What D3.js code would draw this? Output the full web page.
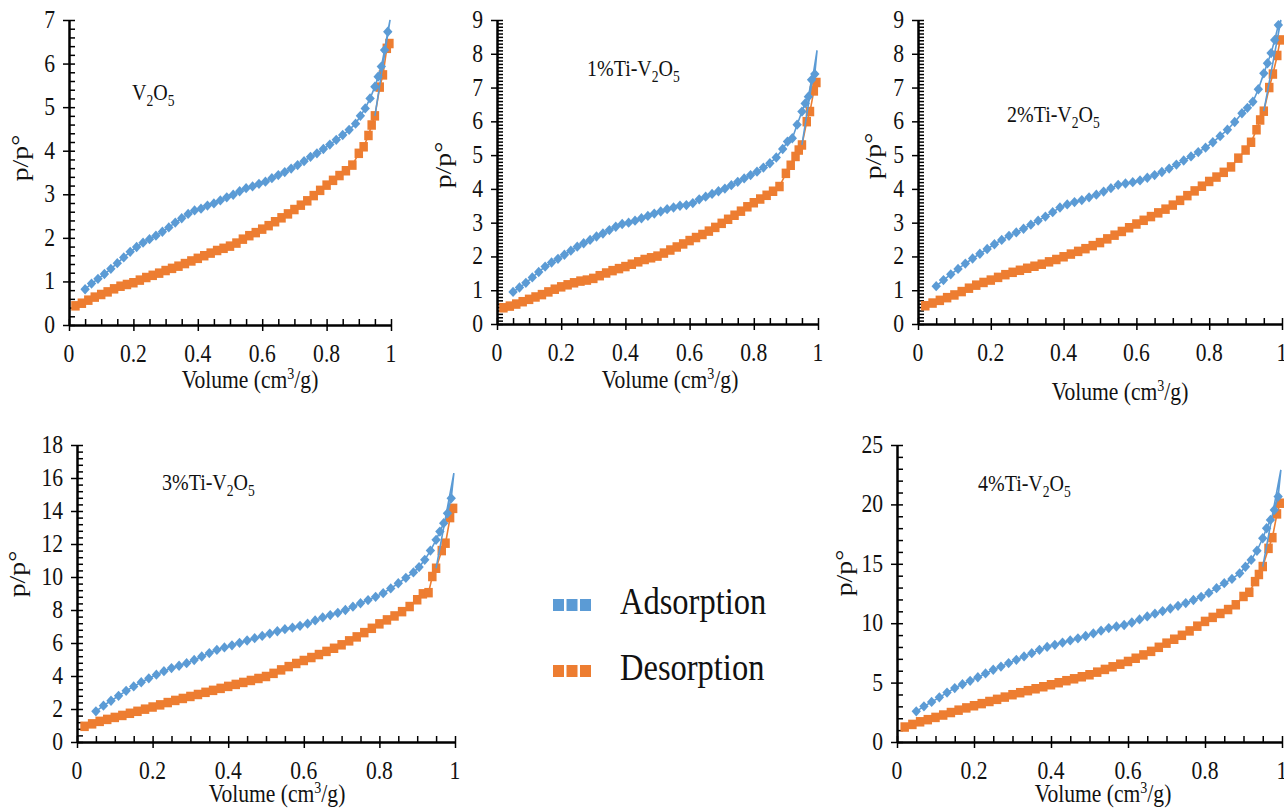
<!DOCTYPE html>
<html><head><meta charset="utf-8">
<script src="https://cdn.jsdelivr.net/npm/d3@7"></script>
<style>html,body{margin:0;padding:0;background:#fff;overflow:hidden}</style>
</head><body>
<svg id="c" width="1284" height="809"></svg>
<script>
// ---------------- DATA ----------------
const sampleNames = ["V2O5", "1%Ti-V2O5", "2%Ti-V2O5", "3%Ti-V2O5", "4%Ti-V2O5"];
const seriesNames = ["Adsorption", "Desorption"];
const xTickLabels = ["0", "0.2", "0.4", "0.6", "0.8", "1"];
const xTickValues = [0, 0.2, 0.4, 0.6, 0.8, 1];
const yAxisMax = [7, 9, 9, 18, 25];
const yMajorStep = [1, 1, 1, 2, 5];
const yMinorStep = [0.2, 0.1, 0.1, 0.4, 1];

// relative pressure points (x)
const adsX = [0.05,0.07,0.09,0.11,0.13,0.15,0.17,0.19,0.21,0.23,0.25,0.27,0.29,0.31,0.33,0.35,0.37,0.39,0.41,0.43,0.45,0.47,0.49,0.51,0.53,0.55,0.57,0.59,0.61,0.63,0.65,0.67,0.69,0.71,0.73,0.75,0.77,0.79,0.81,0.83,0.85,0.87,0.89,0.905,0.92,0.935,0.95,0.96,0.97,0.98,0.99];
const desX = [0.02,0.04,0.06,0.08,0.10,0.12,0.14,0.16,0.18,0.20,0.22,0.24,0.26,0.28,0.30,0.32,0.34,0.36,0.38,0.40,0.42,0.44,0.46,0.48,0.50,0.52,0.54,0.56,0.58,0.60,0.62,0.64,0.66,0.68,0.70,0.72,0.74,0.76,0.78,0.80,0.82,0.84,0.86,0.88,0.90,0.915,0.93,0.94,0.95,0.965,0.975,0.987,0.995];

// adsorption branches
const adsV2O5 = [0.82,0.95,1.06,1.17,1.29,1.42,1.55,1.68,1.79,1.89,1.97,2.05,2.14,2.24,2.35,2.45,2.55,2.63,2.67,2.74,2.79,2.86,2.93,2.99,3.07,3.14,3.18,3.24,3.29,3.37,3.44,3.51,3.59,3.67,3.76,3.86,3.94,4.04,4.14,4.25,4.36,4.48,4.62,4.80,4.97,5.20,5.47,5.70,5.93,6.31,6.73];
const adsTi1 = [0.95,1.08,1.22,1.38,1.54,1.70,1.82,1.93,2.05,2.17,2.29,2.39,2.49,2.59,2.68,2.78,2.88,2.96,3.00,3.06,3.13,3.20,3.27,3.33,3.40,3.45,3.50,3.52,3.58,3.69,3.77,3.85,3.93,4.01,4.11,4.21,4.31,4.41,4.51,4.63,4.76,4.93,5.18,5.40,5.50,5.90,6.29,6.53,6.73,7.23,7.40];
const adsTi2 = [1.12,1.30,1.47,1.63,1.79,1.94,2.08,2.22,2.36,2.49,2.61,2.71,2.82,2.94,3.06,3.18,3.31,3.45,3.54,3.61,3.67,3.75,3.83,3.92,4.02,4.12,4.16,4.20,4.25,4.33,4.41,4.50,4.60,4.72,4.84,4.96,5.09,5.22,5.38,5.56,5.75,5.98,6.24,6.40,6.58,6.95,7.42,7.72,8.02,8.41,8.85];
const adsTi3 = [1.86,2.20,2.50,2.80,3.10,3.37,3.62,3.86,4.08,4.29,4.48,4.62,4.78,4.97,5.18,5.39,5.58,5.73,5.86,6.01,6.15,6.29,6.43,6.57,6.71,6.84,6.93,7.04,7.17,7.37,7.55,7.69,7.83,8.00,8.20,8.41,8.60,8.80,9.02,9.31,9.62,9.95,10.28,10.60,11.04,11.60,12.25,12.75,13.26,13.86,14.77];
const adsTi4 = [2.58,3.00,3.37,3.76,4.16,4.54,4.86,5.15,5.45,5.77,6.08,6.35,6.64,6.92,7.20,7.48,7.76,8.00,8.18,8.37,8.55,8.73,8.92,9.14,9.37,9.59,9.72,9.85,10.06,10.32,10.57,10.80,11.02,11.24,11.46,11.69,11.95,12.22,12.55,12.95,13.37,13.73,14.20,14.75,15.33,16.10,17.15,17.99,18.69,19.53,20.66];

// desorption branches
const desV2O5 = [0.44,0.50,0.57,0.64,0.70,0.76,0.83,0.89,0.93,0.97,1.03,1.09,1.14,1.19,1.25,1.30,1.35,1.41,1.47,1.53,1.59,1.65,1.71,1.76,1.81,1.88,1.97,2.05,2.12,2.20,2.28,2.37,2.46,2.55,2.65,2.75,2.85,2.97,3.09,3.21,3.32,3.43,3.54,3.67,3.94,4.09,4.35,4.59,4.80,5.46,5.74,6.35,6.46];
const desTi1 = [0.48,0.53,0.59,0.66,0.73,0.80,0.87,0.95,1.03,1.10,1.16,1.22,1.27,1.30,1.35,1.43,1.51,1.58,1.64,1.70,1.77,1.84,1.91,1.96,2.01,2.10,2.19,2.28,2.37,2.47,2.56,2.65,2.75,2.86,2.98,3.10,3.22,3.34,3.47,3.59,3.70,3.81,3.93,4.07,4.46,4.70,4.96,5.15,5.30,5.99,6.29,6.90,7.15];
const desTi2 = [0.54,0.62,0.70,0.78,0.86,0.96,1.06,1.15,1.23,1.30,1.38,1.46,1.53,1.59,1.65,1.71,1.77,1.84,1.91,1.99,2.07,2.15,2.23,2.32,2.41,2.52,2.63,2.74,2.85,2.96,3.07,3.18,3.29,3.40,3.52,3.66,3.80,3.94,4.08,4.22,4.35,4.49,4.65,4.91,5.15,5.38,5.75,6.04,6.30,7.00,7.40,7.95,8.41];
const desTi3 = [0.95,1.10,1.25,1.37,1.49,1.61,1.74,1.86,1.99,2.12,2.25,2.39,2.52,2.64,2.76,2.88,3.01,3.13,3.25,3.37,3.49,3.61,3.73,3.85,3.97,4.16,4.37,4.57,4.76,4.94,5.12,5.30,5.49,5.68,5.89,6.13,6.37,6.63,6.89,7.16,7.40,7.64,7.90,8.21,8.62,8.98,9.05,10.03,10.53,11.60,12.05,13.60,14.16];
const desTi4 = [1.26,1.48,1.70,1.88,2.07,2.27,2.48,2.68,2.87,3.05,3.23,3.41,3.59,3.78,3.98,4.15,4.32,4.48,4.65,4.82,4.99,5.16,5.32,5.49,5.66,5.88,6.11,6.33,6.55,6.78,7.05,7.33,7.63,7.97,8.32,8.65,8.98,9.35,9.75,10.15,10.49,10.82,11.15,11.55,12.25,12.60,13.50,14.10,14.77,16.30,17.20,19.20,20.10];

// thin adsorption line end (saturation point) and where it rejoins desorption
const peakX = 0.997;
const adsPeak = [7.0, 8.1, 9.0, 16.3, 22.9];
const rejoinX = 0.95;

const adsSeries = [adsV2O5, adsTi1, adsTi2, adsTi3, adsTi4];
const desSeries = [desV2O5, desTi1, desTi2, desTi3, desTi4];

// ---------------- LAYOUT ----------------
const frames = [
  {x0: 69,  x1: 391,  y0: 325, y1: 20,  tx: 132, ty: 100, ylx: 28,  yly: 158, xtx: 250,  xty: 388},
  {x0: 497, x1: 818,  y0: 324, y1: 20,  tx: 587, ty: 76,  ylx: 451, yly: 165, xtx: 670,  xty: 388},
  {x0: 918, x1: 1282, y0: 324, y1: 20,  tx: 1007, ty: 122, ylx: 881, yly: 156, xtx: 1120, xty: 400},
  {x0: 77,  x1: 455,  y0: 742, y1: 445, tx: 162, ty: 490, ylx: 25,  yly: 574, xtx: 277,  xty: 802},
  {x0: 897, x1: 1282, y0: 742, y1: 445, tx: 978, ty: 491, ylx: 852, yly: 573, xtx: 1103, xty: 802}
];
const BLUE = "#5B9BD5", ORANGE = "#ED7D31";
const SY = 1.16;          // vertical stretch of the original picture's text
const FONT = "'Liberation Serif','Times New Roman',Times,serif";
const TICK_FS = 21.6;

const svg = d3.select("#c");
svg.append("rect").attr("width", 1284).attr("height", 809).attr("fill", "#fff");

function stext(parent, x, y, size, anchor, rotated) {
  const g = parent.append("g").attr("transform", rotated
      ? `translate(${x},${y}) rotate(-90) scale(${SY},1)`
      : `translate(${x},${y}) scale(1,${SY})`);
  return g.append("text").attr("x", 0).attr("y", 0)
    .attr("font-family", FONT).attr("font-size", size)
    .attr("text-anchor", anchor).attr("fill", "#111");
}

function chemText(textSel, str) {
  // digits that follow a letter become subscripts
  let prevLetter = false, inSub = false, buf = "", cur = null, wasSub = false;
  const parts = [];
  for (const ch of str) {
    const isDigit = /[0-9]/.test(ch);
    const sub = isDigit && (prevLetter || inSub);
    parts.push({ch, sub});
    inSub = sub;
    prevLetter = /[A-Za-z]/.test(ch);
  }
  function flushSeg(sub) {
    if (!buf) return;
    const t = textSel.append("tspan").text(buf);
    if (sub) t.attr("font-size", "0.68em").attr("dy", 5);
    else if (wasSub) t.attr("dy", -5);
    wasSub = sub;
    buf = "";
  }
  parts.forEach(p => {
    if (cur === null) cur = p.sub;
    if (p.sub !== cur) { flushSeg(cur); cur = p.sub; }
    buf += p.ch;
  });
  flushSeg(cur);
}

const markerDiamond = d3.symbol(d3.symbolSquare, 44);
const markerSquare = d3.symbol(d3.symbolSquare, 72);

frames.forEach((f, i) => {
  const g = svg.append("g");
  const x = d3.scaleLinear().domain([0, 1]).range([f.x0, f.x1]);
  const y = d3.scaleLinear().domain([0, yAxisMax[i]]).range([f.y0, f.y1]);

  const yMajors = d3.range(0, yAxisMax[i] + 1e-9, yMajorStep[i]);
  const yMinors = d3.range(0, yAxisMax[i] + 1e-9, yMinorStep[i]);
  const xMinors = d3.range(0, 1 + 1e-9, 0.05);

  // axes
  const ax = g.append("g").attr("class", "axes");
  ax.append("g").attr("transform", `translate(${f.x0},0)`)
    .call(d3.axisLeft(y).tickValues(yMajors).tickSizeInner(6).tickSizeOuter(0).tickFormat(""));
  ax.append("g").attr("transform", `translate(${f.x0},0)`)
    .call(d3.axisRight(y).tickValues(yMinors).tickSizeInner(6).tickSizeOuter(0).tickFormat(""));
  ax.append("g").attr("transform", `translate(0,${f.y0})`)
    .call(d3.axisBottom(x).tickValues(xTickValues).tickSizeInner(6).tickSizeOuter(0).tickFormat(""));
  ax.append("g").attr("transform", `translate(0,${f.y0})`)
    .call(d3.axisTop(x).tickValues(xMinors).tickSizeInner(6).tickSizeOuter(0).tickFormat(""));
  ax.selectAll("path.domain").attr("stroke", "#000").attr("stroke-width", 2);
  ax.selectAll(".tick line").attr("stroke", "#000").attr("stroke-width", 1.5);

  // tick labels
  xTickValues.forEach((v, k) => {
    stext(g, x(v), f.y0 + 37, TICK_FS, "middle").text(xTickLabels[k]);
  });
  yMajors.forEach(v => {
    stext(g, f.x0 - 14, y(v) + 8, TICK_FS, "end").text(d3.format("d")(v));
  });

  // axis titles
  const xt = stext(g, f.xtx, f.xty, TICK_FS, "middle");
  xt.append("tspan").text("Volume (cm");
  xt.append("tspan").text("3").attr("font-size", "0.65em").attr("dy", -8);
  xt.append("tspan").text("/g)").attr("dy", 8);
  stext(g, f.ylx, f.yly, 24, "middle", true).text("p/p°");

  // sample title
  chemText(stext(g, f.tx, f.ty, 20, "start"), sampleNames[i]);

  // series
  const ads = adsSeries[i], des = desSeries[i];
  const nA = Math.min(adsX.length, ads.length), nD = Math.min(desX.length, des.length);
  const adsPts = d3.range(nA).map(k => [adsX[k], ads[k]]);
  const desPts = d3.range(nD).map(k => [desX[k], des[k]]);
  const rj = desX.indexOf(rejoinX);
  const adsLinePts = adsPts.concat([[peakX, adsPeak[i]], [desX[rj], des[rj]]]);
  const line = d3.line().x(d => x(d[0])).y(d => y(d[1]));

  g.append("path").attr("d", line(desPts)).attr("fill", "none")
    .attr("stroke", ORANGE).attr("stroke-width", 1.6);
  g.append("g").selectAll("path").data(desPts).join("path")
    .attr("d", markerSquare)
    .attr("transform", d => `translate(${x(d[0])},${y(d[1])}) scale(1,1.12)`)
    .attr("fill", ORANGE);

  g.append("path").attr("d", line(adsLinePts)).attr("fill", "none")
    .attr("stroke", BLUE).attr("stroke-width", 1.6);
  g.append("g").selectAll("path").data(adsPts).join("path")
    .attr("d", markerDiamond)
    .attr("transform", d => `translate(${x(d[0])},${y(d[1])}) scale(1,1.1) rotate(45)`)
    .attr("fill", BLUE);
});

// legend
const legendY = [605, 671];
const legendColors = [BLUE, ORANGE];
const lg = svg.append("g");
seriesNames.forEach((name, k) => {
  [553, 566.5, 580].forEach(lx => {
    lg.append("rect").attr("x", lx).attr("y", legendY[k] - 6).attr("width", 11).attr("height", 12)
      .attr("fill", legendColors[k]);
  });
  stext(lg, 620, legendY[k] + 9, 32.5, "start").text(name);
});
</script>
</body></html>
